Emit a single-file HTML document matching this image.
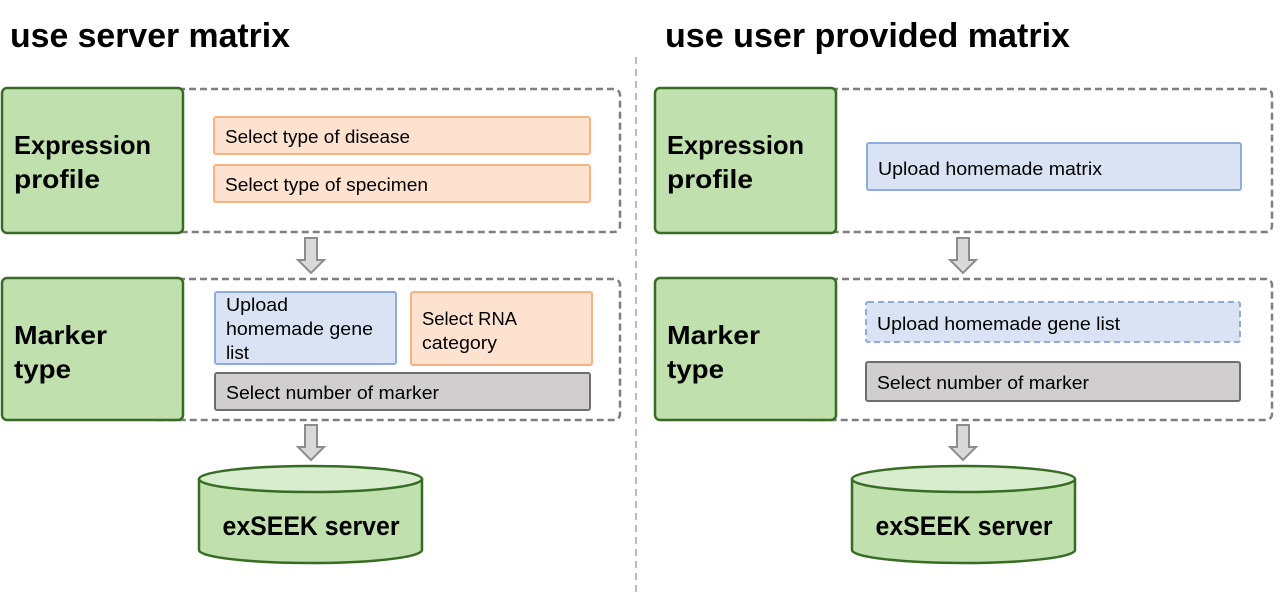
<!DOCTYPE html>
<html><head><meta charset="utf-8"><style>html,body{margin:0;padding:0;background:#fff}svg{display:block}</style></head>
<body>
<svg width="1288" height="597" viewBox="0 0 1288 597" xmlns="http://www.w3.org/2000/svg" font-family="Liberation Sans, sans-serif">
<defs>
<g id="arrow"><path d="M-6,0 h12 v22 h7 l-13,13 l-13,-13 h7 z" fill="#d9d9d9" stroke="#8c8c8c" stroke-width="2"/></g>
</defs>
<text x="10" y="47" font-size="34" font-weight="bold" textLength="280" lengthAdjust="spacingAndGlyphs">use server matrix</text>
<text x="665" y="47" font-size="34" font-weight="bold" textLength="405" lengthAdjust="spacingAndGlyphs">use user provided matrix</text>
<line x1="636" y1="57" x2="636" y2="592" stroke="#a6a6a6" stroke-width="1.5" stroke-dasharray="7,5"/>

<rect x="150" y="89" width="470" height="143" rx="6" fill="none" stroke="#7f7f7f" stroke-width="2.5" stroke-dasharray="7,4"/>
<rect x="2" y="88" width="181" height="145" rx="5" fill="#c0e0ae" stroke="#386b23" stroke-width="2.5"/>
<text x="14" y="154" font-size="26" font-weight="bold" textLength="137" lengthAdjust="spacingAndGlyphs">Expression</text>
<text x="14" y="188" font-size="26" font-weight="bold" textLength="86" lengthAdjust="spacingAndGlyphs">profile</text>
<rect x="214" y="117" width="376" height="37" rx="2" fill="#fde2d0" stroke="#f8b182" stroke-width="2"/>
<text x="225" y="143" font-size="18" textLength="185" lengthAdjust="spacingAndGlyphs">Select type of disease</text>
<rect x="214" y="165" width="376" height="37" rx="2" fill="#fde2d0" stroke="#f8b182" stroke-width="2"/>
<text x="225" y="191" font-size="18" textLength="203" lengthAdjust="spacingAndGlyphs">Select type of specimen</text>
<use href="#arrow" x="311" y="238"/>

<rect x="150" y="279" width="470" height="141" rx="6" fill="none" stroke="#7f7f7f" stroke-width="2.5" stroke-dasharray="7,4"/>
<rect x="2" y="278" width="181" height="142" rx="5" fill="#c0e0ae" stroke="#386b23" stroke-width="2.5"/>
<text x="14" y="344" font-size="26" font-weight="bold" textLength="93" lengthAdjust="spacingAndGlyphs">Marker</text>
<text x="14" y="378" font-size="26" font-weight="bold" textLength="57" lengthAdjust="spacingAndGlyphs">type</text>
<rect x="215" y="292" width="181" height="72" rx="2" fill="#dae3f3" stroke="#8faadc" stroke-width="2"/>
<text x="226" y="311" font-size="18" textLength="62" lengthAdjust="spacingAndGlyphs">Upload</text>
<text x="226" y="335" font-size="18" textLength="147" lengthAdjust="spacingAndGlyphs">homemade gene</text>
<text x="226" y="359" font-size="18" textLength="23" lengthAdjust="spacingAndGlyphs">list</text>
<rect x="411" y="292" width="181" height="73" rx="2" fill="#fde2d0" stroke="#f8b182" stroke-width="2"/>
<text x="422" y="325" font-size="18" textLength="95" lengthAdjust="spacingAndGlyphs">Select RNA</text>
<text x="422" y="349" font-size="18" textLength="75" lengthAdjust="spacingAndGlyphs">category</text>
<rect x="215" y="373" width="375" height="37" rx="2" fill="#d0cece" stroke="#6e6e6e" stroke-width="2"/>
<text x="226" y="399" font-size="18" textLength="213" lengthAdjust="spacingAndGlyphs">Select number of marker</text>
<use href="#arrow" x="311" y="425"/>

<path d="M199,479 v71 a111.5,13 0 0 0 223,0 v-71" fill="#c0e0ae" stroke="#386b23" stroke-width="2.5"/>
<ellipse cx="310.5" cy="479" rx="111.5" ry="13" fill="#d8ecce" stroke="#386b23" stroke-width="2.5"/>
<text x="311" y="535" font-size="27" font-weight="bold" text-anchor="middle" textLength="177" lengthAdjust="spacingAndGlyphs">exSEEK server</text>

<rect x="803" y="89" width="469" height="143" rx="6" fill="none" stroke="#7f7f7f" stroke-width="2.5" stroke-dasharray="7,4"/>
<rect x="655" y="88" width="181" height="145" rx="5" fill="#c0e0ae" stroke="#386b23" stroke-width="2.5"/>
<text x="667" y="154" font-size="26" font-weight="bold" textLength="137" lengthAdjust="spacingAndGlyphs">Expression</text>
<text x="667" y="188" font-size="26" font-weight="bold" textLength="86" lengthAdjust="spacingAndGlyphs">profile</text>
<rect x="867" y="143" width="374" height="47" rx="2" fill="#dae3f3" stroke="#8faadc" stroke-width="2"/>
<text x="878" y="175" font-size="18" textLength="224" lengthAdjust="spacingAndGlyphs">Upload homemade matrix</text>
<use href="#arrow" x="963" y="238"/>

<rect x="803" y="279" width="469" height="141" rx="6" fill="none" stroke="#7f7f7f" stroke-width="2.5" stroke-dasharray="7,4"/>
<rect x="655" y="278" width="181" height="142" rx="5" fill="#c0e0ae" stroke="#386b23" stroke-width="2.5"/>
<text x="667" y="344" font-size="26" font-weight="bold" textLength="93" lengthAdjust="spacingAndGlyphs">Marker</text>
<text x="667" y="378" font-size="26" font-weight="bold" textLength="57" lengthAdjust="spacingAndGlyphs">type</text>
<rect x="866" y="302" width="374" height="40" rx="2" fill="#dae3f3" stroke="#8faadc" stroke-width="2" stroke-dasharray="6,4"/>
<text x="877" y="330" font-size="18" textLength="243" lengthAdjust="spacingAndGlyphs">Upload homemade gene list</text>
<rect x="866" y="362" width="374" height="39" rx="2" fill="#d0cece" stroke="#6e6e6e" stroke-width="2"/>
<text x="877" y="389" font-size="18" textLength="212" lengthAdjust="spacingAndGlyphs">Select number of marker</text>
<use href="#arrow" x="963" y="425"/>

<path d="M852,479 v71 a111.5,13 0 0 0 223,0 v-71" fill="#c0e0ae" stroke="#386b23" stroke-width="2.5"/>
<ellipse cx="963.5" cy="479" rx="111.5" ry="13" fill="#d8ecce" stroke="#386b23" stroke-width="2.5"/>
<text x="964" y="535" font-size="27" font-weight="bold" text-anchor="middle" textLength="177" lengthAdjust="spacingAndGlyphs">exSEEK server</text>
</svg>
</body></html>
